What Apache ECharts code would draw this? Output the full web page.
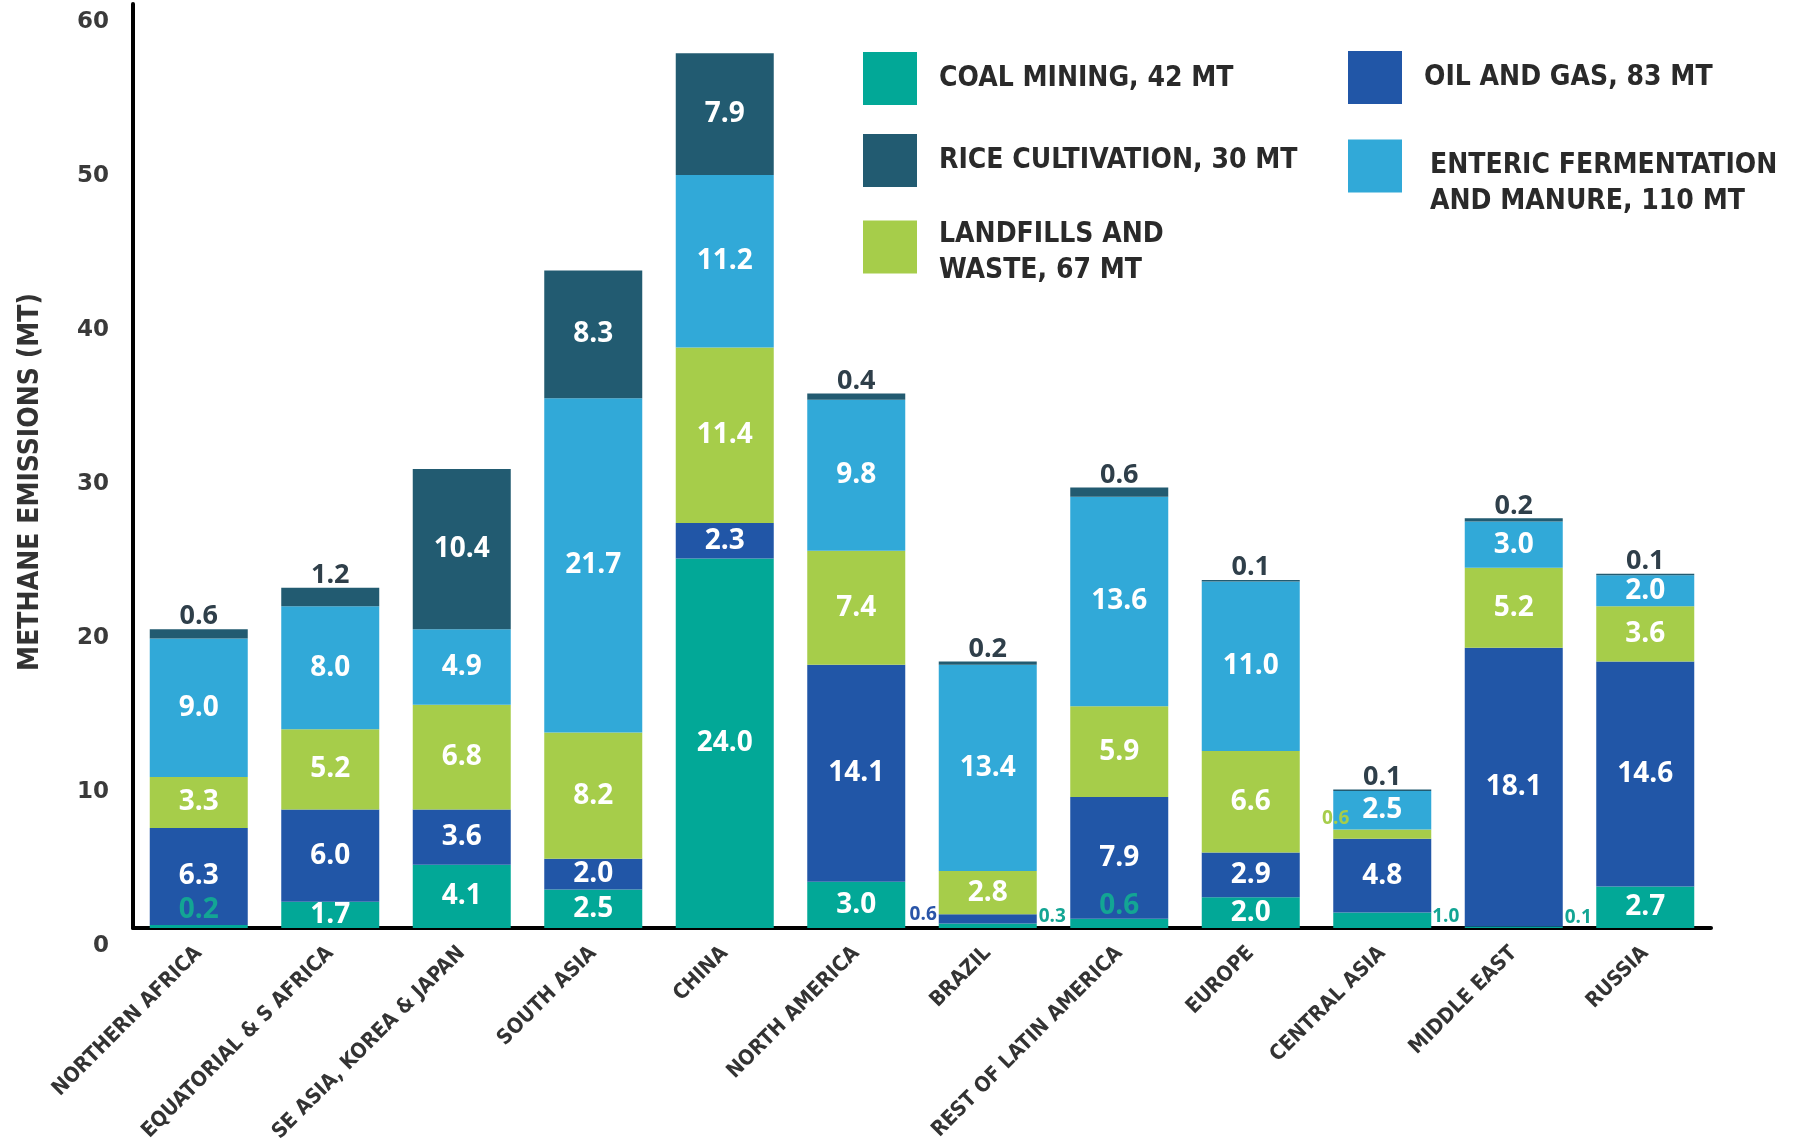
<!DOCTYPE html>
<html>
<head>
<meta charset="utf-8">
<style>
  html, body { margin: 0; padding: 0; background: #ffffff; }
  #chart { width: 1802px; height: 1146px; }
</style>
<script src="https://cdn.jsdelivr.net/npm/echarts@6/dist/echarts.min.js"></script>
</head>
<body>
<div id="chart"></div>
<script>
// ---- Data ----
const categories = ['NORTHERN AFRICA', 'EQUATORIAL & S AFRICA', 'SE ASIA, KOREA & JAPAN', 'SOUTH ASIA', 'CHINA',
  'NORTH AMERICA', 'BRAZIL', 'REST OF LATIN AMERICA', 'EUROPE', 'CENTRAL ASIA', 'MIDDLE EAST', 'RUSSIA'];
const coalMining  = [0.2, 1.7, 4.1, 2.5, 24.0, 3.0, 0.3, 0.6, 2.0, 1.0, 0.1, 2.7];
const oilAndGas   = [6.3, 6.0, 3.6, 2.0, 2.3, 14.1, 0.6, 7.9, 2.9, 4.8, 18.1, 14.6];
const landfills   = [3.3, 5.2, 6.8, 8.2, 11.4, 7.4, 2.8, 5.9, 6.6, 0.6, 5.2, 3.6];
const enteric     = [9.0, 8.0, 4.9, 21.7, 11.2, 9.8, 13.4, 13.6, 11.0, 2.5, 3.0, 2.0];
const rice        = [0.6, 1.2, 10.4, 8.3, 7.9, 0.4, 0.2, 0.6, 0.1, 0.1, 0.2, 0.1];
const yTicks = [0, 10, 20, 30, 40, 50, 60];
const yAxisTitle = 'METHANE EMISSIONS (MT)';
const seriesNames = ['COAL MINING, 42 MT', 'OIL AND GAS, 83 MT', 'LANDFILLS AND WASTE, 67 MT',
  'ENTERIC FERMENTATION AND MANURE, 110 MT', 'RICE CULTIVATION, 30 MT'];
const legendText = {
  'COAL MINING, 42 MT': '{t|COAL MINING, 42 MT}',
  'OIL AND GAS, 83 MT': '{t|OIL AND GAS, 83 MT}',
  'LANDFILLS AND WASTE, 67 MT': '{g1| }\n{t|LANDFILLS AND}\n{t|WASTE, 67 MT}',
  'ENTERIC FERMENTATION AND MANURE, 110 MT': '{g2| }\n{t|ENTERIC FERMENTATION}\n{t|AND MANURE, 110 MT}',
  'RICE CULTIVATION, 30 MT': '{t|RICE CULTIVATION, 30 MT}'
};

// ---- Styles ----
const COLORS = {
  coal: '#02a897',
  oil: '#2156a7',
  land: '#a6cd4a',
  ent: '#31a9d8',
  rice: '#225b71'
};
const CONDENSED = "'Liberation Sans Narrow', 'DejaVu Sans Condensed', 'Roboto Condensed', 'Arial Narrow', sans-serif";
const VALUE_FONT = "'Open Sans', 'DejaVu Sans', sans-serif";
const DARK = '#2f3f4a';

const insideLabel = {
  show: true, position: 'inside', color: '#ffffff', fontFamily: VALUE_FONT,
  fontWeight: 'bold', fontSize: 28,
  formatter: p => p.value.toFixed(1)
};

// special (small segment) label overrides: {seriesIndex: {dataIndex: label}}
const smallFont = 19;
const overrides = {
  0: {
    0: { position: 'inside', color: '#13a594', offset: [0, -16] },
    6: { position: 'right', distance: 2, fontSize: smallFont, color: '#13a594', offset: [0, -9] },
    7: { position: 'inside', color: '#13a594', offset: [0, -17] },
    9: { position: 'right', distance: 1, fontSize: smallFont, color: '#13a594', offset: [0, -4] },
    10: { position: 'right', distance: 2, fontSize: smallFont, color: '#13a594', offset: [0, -10] }
  },
  1: {
    6: { position: 'left', distance: 2, fontSize: smallFont, color: '#2a55a8', offset: [0, -4] }
  },
  2: {
    9: { position: 'left', distance: 0, fontSize: smallFont, color: '#a6cd4a', offset: [16, -15] }
  },
  4: {}
};
// rice labels: above the bar unless the segment is big
rice.forEach((v, i) => {
  if (v < 5) overrides[4][i] = { position: 'top', distance: -1, color: DARK, fontSize: 27 };
});

function buildData(values, sIdx) {
  return values.map((v, i) => {
    const o = overrides[sIdx] && overrides[sIdx][i];
    return o ? { value: v, label: o } : v;
  });
}

const valueArrays = [coalMining, oilAndGas, landfills, enteric, rice];
const colorList = [COLORS.coal, COLORS.oil, COLORS.land, COLORS.ent, COLORS.rice];

const series = valueArrays.map((arr, s) => ({
  name: seriesNames[s],
  type: 'bar',
  stack: 'total',
  barWidth: 98,
  itemStyle: { color: colorList[s] },
  label: insideLabel,
  emphasis: { disabled: true },
  data: buildData(arr, s)
}));

const legendTextStyle = { fontFamily: CONDENSED, fontWeight: 'bold', fontSize: 28, color: '#2a2a2a', lineHeight: 36 };
function legendOf(name, left, top, padLeft) {
  return {
    data: [name],
    left: left, top: top,
    orient: 'horizontal',
    icon: 'rect',
    itemWidth: 54,
    itemHeight: 53,
    selectedMode: false,
    textStyle: Object.assign({}, legendTextStyle, {
      padding: [0, 0, 0, padLeft],
      rich: {
        t: legendTextStyle,
        g1: { lineHeight: 12, fontSize: 10 },
        g2: { lineHeight: 36, fontSize: 10 }
      }
    }),
    formatter: n => legendText[n]
  };
}
const legends = [
  legendOf(seriesNames[0], 858, 47, 17),
  legendOf(seriesNames[4], 858, 129, 17),
  legendOf(seriesNames[2], 858, 200, 17),
  legendOf(seriesNames[1], 1343, 46, 17),
  legendOf(seriesNames[3], 1343, 107, 23)
];

const nameStyle = { fontFamily: CONDENSED, fontWeight: 'bold', fontSize: 28, color: '#333333' };

const chart = echarts.init(document.getElementById('chart'), null, { renderer: 'canvas' });
chart.setOption({
  animation: false,
  backgroundColor: '#ffffff',
  legend: legends,
  grid: { left: 133, right: 91, top: 4, bottom: 218, containLabel: false },
  xAxis: {
    type: 'category',
    data: categories,
    axisLine: { show: true, lineStyle: { color: '#000000', width: 4 } },
    axisTick: { show: false },
    axisLabel: {
      interval: 0, rotate: 45, margin: 22,
      fontFamily: CONDENSED, fontWeight: 'bold', fontSize: 21, color: '#333333'
    }
  },
  yAxis: {
    type: 'value',
    min: yTicks[0], max: yTicks[yTicks.length - 1], interval: 10,
    name: '{n|' + yAxisTitle + '}{s| }',
    nameLocation: 'middle',
    nameGap: 88,
    nameTextStyle: Object.assign({}, nameStyle, {
      rich: { n: nameStyle, s: { width: 32, fontSize: 10 } }
    }),
    axisLine: { show: true, lineStyle: { color: '#000000', width: 4 } },
    axisTick: { show: false },
    splitLine: { show: false },
    axisLabel: {
      margin: 24, verticalAlign: 'top', lineHeight: 36,
      fontFamily: "'DejaVu Sans', sans-serif", fontWeight: 'bold', fontSize: 23, color: '#3a3a3a'
    }
  },
  series: series
});
</script>
</body>
</html>
